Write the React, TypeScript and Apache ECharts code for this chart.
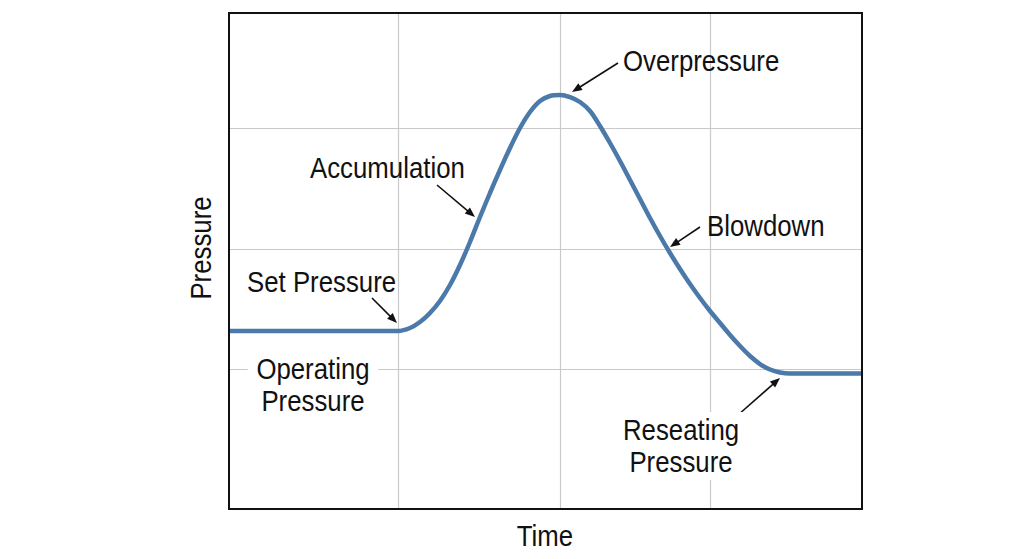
import React, { useEffect, useRef } from "react";
import * as echarts from "echarts";

// Time (0..100) and pressure (0..100)
const timeValues = [
  0, 26.7, 28.59, 30.17, 31.75, 33.33, 34.91, 36.49, 38.07, 39.65, 41.23, 42.81, 44.39, 45.97, 47.55, 49.13, 50.71, 52.29,
  53.87, 55.45, 57.03, 58.61, 60.19, 61.77, 63.35, 64.93, 66.51, 68.09, 69.67, 71.25, 72.83, 74.41, 75.99, 77.57, 79.15,
  80.73, 82.31, 83.89, 85.47, 87.05, 88.63, 100,
];
const pressureValues = [
  35.89, 35.89, 36.49, 37.7, 39.52, 41.94, 45.16, 49.19, 53.83, 58.87, 63.71, 68.35, 72.78, 76.81, 80.04, 82.26, 83.27, 83.47,
  83.06, 82.06, 80.24, 77.22, 73.79, 70.16, 66.33, 62.5, 58.67, 55.04, 51.61, 48.39, 45.36, 42.54, 39.92, 37.5, 35.08,
  32.86, 30.85, 29.23, 28.13, 27.52, 27.3, 27.3,
];

// Reference lines (gridlines) positions in data units
const gridTimes = [26.7, 52.3, 76.0];
const gridPressures = [28.2, 52.4, 76.8];

const xAxisTitle = "Time";
const yAxisTitle = "Pressure";

const FONT = "'Liberation Sans', Arial, sans-serif";
const TEXT_COLOR = "#111";
const FS = 30;
const SX = 0.86;

function arrow(x1: number, y1: number, x2: number, y2: number) {
  const dx = x2 - x1;
  const dy = y2 - y1;
  const len = Math.sqrt(dx * dx + dy * dy);
  const ux = dx / len;
  const uy = dy / len;
  const hl = 10;
  const hw = 4;
  const bx = x2 - ux * hl;
  const by = y2 - uy * hl;
  return {
    type: "group",
    children: [
      {
        type: "line",
        shape: { x1, y1, x2: bx + ux * 2, y2: by + uy * 2 },
        style: { stroke: TEXT_COLOR, lineWidth: 1.6 },
      },
      {
        type: "polygon",
        shape: {
          points: [
            [x2, y2],
            [bx - uy * hw, by + ux * hw],
            [bx + uy * hw, by - ux * hw],
          ],
        },
        style: { fill: TEXT_COLOR },
      },
    ],
  };
}

function label(text: string, x: number, y: number, align: string = "left", bg = false) {
  return {
    type: "text",
    x,
    y,
    z: 100,
    scaleX: SX,
    style: {
      text,
      fill: TEXT_COLOR,
      fontSize: FS,
      fontFamily: FONT,
      align,
      verticalAlign: "middle",
      lineHeight: 32,
      backgroundColor: bg ? "#fff" : undefined,
      padding: bg ? [2, 10] : 0,
    },
  };
}

export default function App() {
  const ref = useRef<HTMLDivElement>(null);
  useEffect(() => {
    if (!ref.current) return;
    const chart = echarts.init(ref.current, undefined, { renderer: "svg" });
    const data = timeValues.map((t, i) => [t, pressureValues[i]]);
    chart.setOption({
      animation: false,
      backgroundColor: "#fff",
      grid: {
        left: 229,
        top: 13,
        width: 633,
        height: 496,
        show: true,
        borderColor: "#111",
        borderWidth: 2,
        backgroundColor: "transparent",
        z: 10,
      },
      xAxis: {
        type: "value",
        min: 0,
        max: 100,
        axisLine: { show: false },
        axisTick: { show: false },
        axisLabel: { show: false },
        splitLine: { show: false },
      },
      yAxis: {
        type: "value",
        min: 0,
        max: 100,
        axisLine: { show: false },
        axisTick: { show: false },
        axisLabel: { show: false },
        splitLine: { show: false },
      },
      series: [
        {
          type: "line",
          data,
          smooth: 0.3,
          symbol: "none",
          lineStyle: { color: "#4a79aa", width: 4.5 },
          z: 5,
          markLine: {
            silent: true,
            symbol: ["none", "none"],
            label: { show: false },
            lineStyle: { color: "#c9c9c9", width: 1.2, type: "solid" },
            z: 1,
            data: [
              ...gridTimes.map((v) => ({ xAxis: v })),
              ...gridPressures.map((v) => ({ yAxis: v })),
            ],
          },
        },
      ],
      graphic: [
        label("Overpressure", 623, 61),
        arrow(618, 63, 572, 92),
        label("Accumulation", 310, 168),
        arrow(437, 185, 475, 217),
        label("Blowdown", 707, 226),
        arrow(700, 227, 670, 247),
        label("Set Pressure", 247, 282),
        arrow(372, 298, 397, 323),
        label("Operating\nPressure", 313, 385, "center", true),
        label("Reseating\nPressure", 681, 446, "center", true),
        arrow(738, 415, 780, 378),
        label(xAxisTitle, 545, 536, "center"),
        { ...label(yAxisTitle, 201, 248, "center"), rotation: Math.PI / 2 },
      ],
    });
    return () => chart.dispose();
  }, []);
  return (
    <div
      ref={ref}
      style={{ position: "fixed", left: 0, top: 0, width: 1024, height: 559 }}
    />
  );
}
